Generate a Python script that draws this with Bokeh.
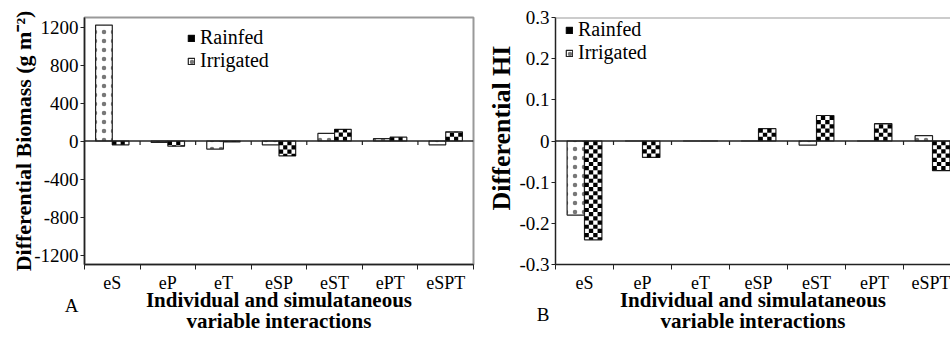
import numpy as np
from bokeh.plotting import figure
from bokeh.layouts import row
from bokeh.models import FixedTicker, Span, Legend, LegendItem, Range1d
from bokeh.embed import file_html
from bokeh.resources import INLINE

# ---------------- data ----------------
categories = ["eS", "eP", "eT", "eSP", "eST", "ePT", "eSPT"]
biomass_irrigated = [1220, -15, -85, -40, 80, 25, -40]
biomass_rainfed = [-40, -55, -10, -157, 123, 40, 97]
hi_irrigated = [-0.18, 0.0, 0.0, 0.0, -0.01, 0.0, 0.013]
hi_rainfed = [-0.24, -0.04, 0.0, 0.03, 0.062, 0.042, -0.072]
biomass_ticks = [-1200, -800, -400, 0, 400, 800, 1200]
biomass_tick_labels = ["-1200", "-800", "-400", "0", "400", "800", "1200"]
hi_ticks = [-0.3, -0.2, -0.1, 0, 0.1, 0.2, 0.3]
hi_tick_labels = ["-0.3", "-0.2", "-0.1", "0", "0.1", "0.2", "0.3"]
series_names = ["Rainfed", "Irrigated"]
y_titles = ["Differential Biomass (g m\u207b\u00b2)", "Differential HI"]
x_title_lines = ["Individual and simulataneous", "variable interactions"]
panel_letters = ["A", "B"]

SERIF = "Times New Roman"
H = 336
BAR_W = 0.3
N_COLS = 4
CELL_PX = 4.3
NB = "\u00a0"


def checker_cells(values, xs, y_span, frame_h):
    ch = CELL_PX * y_span / frame_h
    cw = BAR_W / N_COLS
    L, R, T, B = [], [], [], []
    for x0, v in zip(xs, values):
        n_rows = int(np.ceil(abs(v) / ch)) if v != 0 else 0
        sgn = 1 if v > 0 else -1
        for i in range(n_rows):
            y_a = i * ch
            y_b = min((i + 1) * ch, abs(v))
            for j in range(N_COLS):
                if (i + j) % 2 == 0:
                    L.append(x0 + j * cw)
                    R.append(x0 + (j + 1) * cw)
                    B.append(sgn * y_a)
                    T.append(sgn * y_b)
    return L, R, T, B


def make_panel(irr, rain, ticks, tick_labels, letter, y_range, x_end, width,
               borders, legend_pos, y_title, ytitle_size, ytitle_standoff,
               outline):
    left, right, top, bottom = borders
    p = figure(width=width, height=H, output_backend="svg",
               toolbar_location=None, x_range=Range1d(-0.5, x_end),
               y_range=Range1d(*y_range), min_border_left=left,
               min_border_right=right, min_border_top=top,
               min_border_bottom=bottom)
    p.xgrid.visible = False
    p.ygrid.visible = False
    p.background_fill_color = "white"
    if outline:
        p.outline_line_color = "#999999"
        p.outline_line_width = 2
    else:
        p.outline_line_color = None
        p.add_layout(Span(location=y_range[1], dimension="width",
                          line_color="#999999", line_width=2))

    xs = np.arange(len(categories))
    r_irr = p.vbar(x=xs - BAR_W / 2, top=irr, bottom=0, width=BAR_W,
                   fill_color="white", line_color="#222222", line_width=1.2,
                   hatch_pattern=".", hatch_scale=9, hatch_weight=0.5,
                   hatch_color="#777777")
    r_rain = p.vbar(x=xs + BAR_W / 2, top=rain, bottom=0, width=BAR_W,
                    fill_color="white", line_color="#222222", line_width=1.2)
    L, R, T, B = checker_cells(rain, xs, y_range[1] - y_range[0],
                               H - top - bottom)
    r_cells = p.quad(left=L, right=R, top=T, bottom=B, fill_color="black",
                     line_color=None)

    p.add_layout(Span(location=0, dimension="width", line_color="#222222",
                      line_width=1.5))
    tick_len = (y_range[1] - y_range[0]) * 0.016
    bounds = xs[:-1] + 0.5
    p.segment(x0=bounds, x1=bounds, y0=np.zeros(len(bounds)),
              y1=np.full(len(bounds), -tick_len), line_color="#222222",
              line_width=1.2)

    # y axis; the panel letter sits two lines under the lowest tick label
    labels = list(tick_labels)
    labels[0] = "\n\n" + labels[0] + "\n\n" + letter
    ya = p.yaxis[0]
    ya.ticker = FixedTicker(ticks=ticks, minor_ticks=[])
    ya.major_label_overrides = dict(zip(ticks, labels))
    ya.major_tick_out = 4
    ya.major_tick_in = 0
    ya.major_tick_line_color = "#222222"
    ya.axis_line_color = "#222222"
    ya.axis_line_width = 1.5
    ya.major_label_standoff = 2
    ya.major_label_text_font = SERIF
    ya.major_label_text_font_size = "19px"
    ya.major_label_text_color = "black"
    ya.axis_label = y_title
    ya.axis_label_text_font = SERIF
    ya.axis_label_text_font_style = "bold"
    ya.axis_label_text_font_size = ytitle_size
    ya.axis_label_text_color = "black"
    ya.axis_label_standoff = ytitle_standoff

    xa = p.xaxis[0]
    xa.ticker = FixedTicker(ticks=list(xs.astype(float)),
                            minor_ticks=list(np.arange(-0.5, len(categories), 1.0)))
    xa.major_label_overrides = {float(i): c for i, c in enumerate(categories)}
    xa.major_tick_out = 0
    xa.major_tick_in = 0
    xa.minor_tick_out = 5
    xa.minor_tick_in = 0
    xa.minor_tick_line_color = "#222222"
    xa.axis_line_color = "#222222"
    xa.axis_line_width = 1.5
    xa.major_label_standoff = 3
    xa.major_label_text_font = SERIF
    xa.major_label_text_font_size = "18px"
    xa.major_label_text_color = "black"
    xa.axis_label = "\n".join(x_title_lines)
    xa.axis_label_text_font = SERIF
    xa.axis_label_text_font_style = "bold"
    xa.axis_label_text_font_size = "21px"
    xa.axis_label_text_color = "black"
    xa.axis_label_text_line_height = 0.9
    xa.axis_label_standoff = -8

    legend = Legend(items=[LegendItem(label=series_names[0], renderers=[r_rain, r_cells]),
                           LegendItem(label=series_names[1], renderers=[r_irr])],
                    location=legend_pos, border_line_color=None,
                    background_fill_alpha=0, padding=0, margin=0, spacing=0,
                    glyph_width=8, glyph_height=8, label_height=17,
                    label_standoff=5, label_text_font=SERIF,
                    label_text_font_size="20px", label_text_color="black")
    p.add_layout(legend)
    return p


pA = make_panel(biomass_irrigated, biomass_rainfed, biomass_ticks,
                biomass_tick_labels, panel_letters[0], (-1300, 1300), 6.5,
                480, (84, 7, 17, 68), (103, 192), y_titles[0], "22px", -5,
                True)
pB = make_panel(hi_irrigated, hi_rainfed, hi_ticks, hi_tick_labels,
                panel_letters[1], (-0.3, 0.3), 6.31, 470, (75, 0, 14, 68),
                (10, 200), NB * 4 + y_titles[1], "26px", 0, False)

layout = row(pA, pB)
open("out.html", "w").write(file_html(layout, INLINE))
